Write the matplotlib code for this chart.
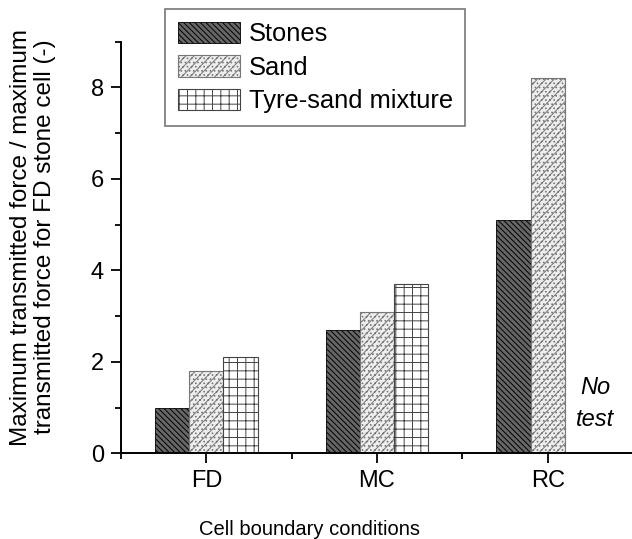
import matplotlib
matplotlib.use("Agg")
import matplotlib.pyplot as plt
import numpy as np
from matplotlib.ticker import MultipleLocator

plt.rcParams['font.family'] = ['Liberation Sans', 'DejaVu Sans']
plt.rcParams['hatch.linewidth'] = 0.7

conditions = ["FD", "MC", "RC"]
stones = [1.0, 2.7, 5.1]
sand = [1.8, 3.1, 8.2]
tyre_sand = [2.1, 3.7]          # no test for RC
series_names = ["Stones", "Sand", "Tyre-sand mixture"]

x = np.arange(1, len(conditions) + 1)
w = 0.2

fig = plt.figure(figsize=(6.32, 5.39), dpi=100)
ax = fig.add_axes([0.1915, 0.159, 0.81, 0.7635])

b1 = ax.bar(x - w, stones, w, facecolor='#666666', edgecolor='black',
            hatch='\\\\\\\\\\\\', linewidth=0.6)
b2 = ax.bar(x, sand, w, facecolor='#eeeeee', edgecolor='#777777',
            hatch='....////', linewidth=0.8)
b3 = ax.bar(x[:len(tyre_sand)] + w, tyre_sand, w, facecolor='white',
            edgecolor='#444444', hatch='++', linewidth=0.8)

ax.text(3.28, 1.08, "No\ntest", style='italic', fontsize=17,
        ha='center', va='center', linespacing=1.5)

ax.set_xlim(0.5, 3.5)
ax.set_ylim(0, 9)
ax.set_xticks(x)
ax.set_xticklabels(conditions)
ax.xaxis.set_minor_locator(MultipleLocator(0.5))
ax.yaxis.set_major_locator(MultipleLocator(2))
ax.yaxis.set_minor_locator(MultipleLocator(1))
ax.tick_params(which='major', length=7.2, width=1.3, labelsize=17, pad=5)
ax.tick_params(which='minor', length=4, width=1.3)
for s in ['top', 'right']:
    ax.spines[s].set_visible(False)
for s in ['left', 'bottom']:
    ax.spines[s].set_linewidth(1.4)

fig.text(0.49, 0.0075, "Cell boundary conditions", fontsize=14.5,
         ha='center', va='baseline')
fig.text(0.052, 0.56,
         "Maximum transmitted force / maximum\ntransmitted force for FD stone cell (-)",
         fontsize=17.5, rotation=90, ha='center', va='center', linespacing=1.1)

leg = fig.legend([b1, b2, b3], series_names, loc='upper left',
                 bbox_to_anchor=(0.261, 0.983), fontsize=18.4, frameon=True,
                 fancybox=False, handlelength=2.42, handleheight=0.9,
                 handletextpad=0.35, labelspacing=0.35, borderpad=0.5,
                 borderaxespad=0)
leg.get_frame().set_edgecolor('#555555')
leg.get_frame().set_linewidth(1.2)

fig.savefig("out.png", dpi=100)
